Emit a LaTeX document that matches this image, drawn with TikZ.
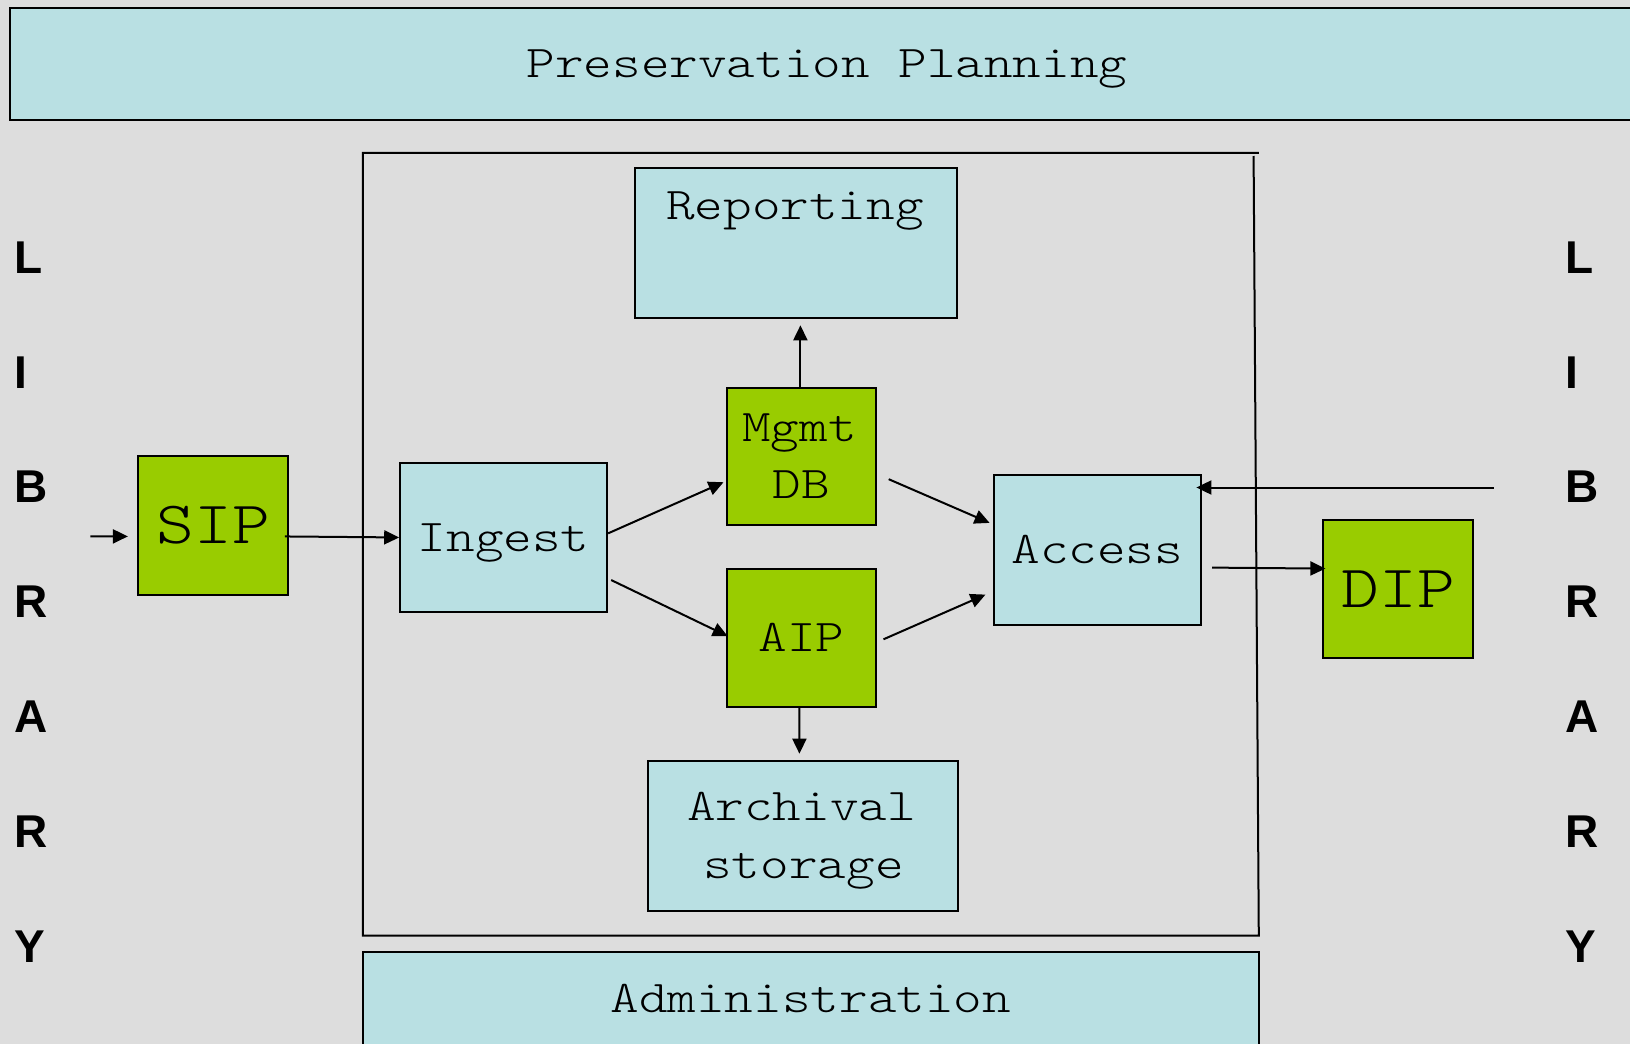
\documentclass[tikz,border=0pt]{standalone}
\usepackage{fontspec}
\newfontfamily\boxfont[FakeStretch=1.2]{Latin Modern Mono Light}
\newfontfamily\sidefont{Liberation Sans}
\usetikzlibrary{arrows.meta,calc}
\definecolor{pagegray}{RGB}{221,221,221}
\definecolor{boxblue}{RGB}{185,224,227}
\definecolor{boxgreen}{RGB}{153,204,0}
\begin{document}
\begin{tikzpicture}[x=0.5pt,y=-0.5pt,
  box/.style={draw=black, line width=1pt, inner sep=0pt,
    font=\boxfont\fontsize{22.7}{28.5}\selectfont, text height=13.85pt, text depth=0pt},
  bluebox/.style={box, fill=boxblue},
  greenbox/.style={box, fill=boxgreen},
  bigtext/.style={font=\boxfont\fontsize{30}{38}\selectfont, text height=18.3pt},
  boxlabel/.style={inner sep=0pt, font=\boxfont\fontsize{22.7}{28.5}\selectfont,
    text height=13.85pt, text depth=0pt},
  side/.style={inner sep=0pt, anchor=west,
    font=\sidefont\bfseries\fontsize{23}{27}\selectfont, text height=16.45pt, text depth=0pt},
  flow/.style={line width=1pt, -{Triangle[length=7.5pt,width=7pt]}},
]
\useasboundingbox (0,0) rectangle (1630,1044);
\clip (0,0) rectangle (1630,1044);
\fill[pagegray] (0,0) rectangle (1630,1044);

% top band
\node[bluebox, minimum width=816.6pt, minimum height=55.6pt] (plan) at (827,63.9) {Preservation Planning};

% archive frame (right edge slightly slanted)
\draw[line width=1pt] (1258.8,152.8) -- (362.8,152.8) -- (362.8,935.6) -- (1258.8,935.6) -- (1253.6,156);

% functional boxes
\node[bluebox, minimum width=161.15pt, minimum height=74.85pt] (reporting) at (796.25,243.25) {};
\node[boxlabel] (reporting-text) at (795,205.8) {Reporting};

\node[greenbox, minimum width=74.85pt, minimum height=68.65pt] (mgmt) at (801.45,456.35) {};
\node[boxlabel] (mgmt-l1) at (799.5,427.2) {Mgmt};
\node[boxlabel] (mgmt-l2) at (801.5,484.4) {DB};

\node[greenbox, minimum width=74.85pt, minimum height=69.15pt] (aip) at (801.45,637.75) {AIP};

\node[bluebox, minimum width=155.4pt, minimum height=74.85pt] (archival) at (803,835.75) {};
\node[boxlabel] (archival-l1) at (801.5,806.7) {Archival};
\node[boxlabel] (archival-l2) at (803.5,864.9) {storage};

\node[bluebox, minimum width=103.45pt, minimum height=74.85pt] (ingest) at (503.65,537.45) {Ingest};
\node[bluebox, minimum width=103.4pt, minimum height=74.8pt] (access) at (1097.2,549.9) {Access};

\node[greenbox, bigtext, minimum width=74.8pt, minimum height=69.15pt] (sip) at (213.1,525.45) {SIP};
\node[greenbox, bigtext, minimum width=74.85pt, minimum height=69.1pt] (dip) at (1398.15,588.9) {DIP};

% bottom band
\node[bluebox, minimum width=448pt, minimum height=46.8pt] (admin) at (810.8,999) {Administration};

% free ends of the outer arrows
\coordinate (libin) at (1493.8,487.5);
\coordinate (sipin) at (90.4,536.4);

% flows
\draw[flow] (sipin) -- ($(sip.west)+(-9.4,10.95)$);
\draw[flow] ($(sip.east)+(-4.1,11)$) -- (ingest.west);
\draw[flow] ($(ingest.east)+(0,-4.1)$) -- ($(mgmt.west)+(-2.1,25.9)$);
\draw[flow] ($(ingest.east)+(3.1,42.6)$) -- ($(aip.west)+(2.1,-1.55)$);
\draw[flow] ($(mgmt.north)+(-1.05,0)$) -- ($(reporting.south)+(4.15,6.2)$);
\draw[flow] ($(aip.south)+(-2,0)$) -- ($(archival.north)+(-3.6,-6.2)$);
\draw[flow] ($(mgmt.east)+(11.4,22.85)$) -- ($(access.west)+(-3.2,-27)$);
\draw[flow] ($(aip.east)+(6.2,1.55)$) -- ($(access.west)+(-7.3,44.7)$);
\draw[flow] (libin) -- ($(access.east)+(-5.2,-62.4)$);
\draw[flow] ($(access.east)+(10.4,17.7)$) -- ($(dip.west)+(3.1,-20.3)$);

% LIBRARY columns on both sides
\foreach \ch [count=\i] in {L,I,B,R,A,R,Y} {
  \node[side] (libleft-\i) at (14.5,{256.8+(\i-1)*114.87}) {\ch};
  \node[side] (libright-\i) at (1565.5,{256.8+(\i-1)*114.87}) {\ch};
}
\end{tikzpicture}
\end{document}
